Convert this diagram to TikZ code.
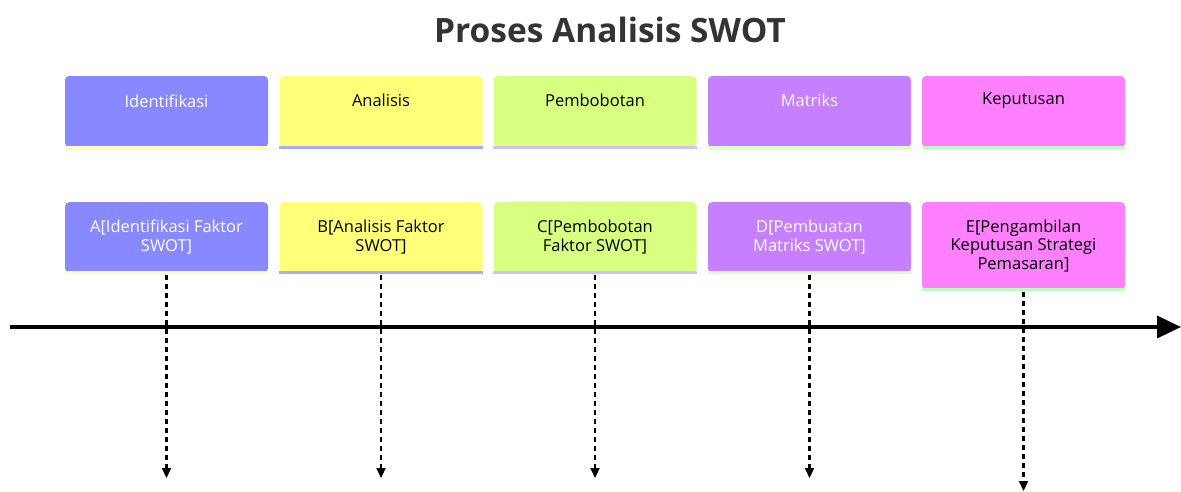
\documentclass[tikz,border=0pt]{standalone}
\usepackage{fontspec}
\setmainfont{Open Sans}
\usetikzlibrary{arrows.meta}
\definecolor{cA}{HTML}{8888FF}
\definecolor{cB}{HTML}{FFFF78}
\definecolor{cC}{HTML}{D9FF80}
\definecolor{cD}{HTML}{C680FF}
\definecolor{cE}{HTML}{FF80FF}
\definecolor{lA}{HTML}{FFFFB8}
\definecolor{lB}{HTML}{AAAAFF}
\definecolor{lC}{HTML}{D6BCFF}
\definecolor{lD}{HTML}{DAFFC4}
\definecolor{lE}{HTML}{BCFFBC}
\definecolor{titlec}{HTML}{333333}
\definecolor{lighttext}{HTML}{FFFFFF}
\tikzset{
  box/.style={rectangle, rounded corners=4pt, minimum width=203pt, inner sep=0pt, align=center, font=\fontsize{16.5}{18.5}\selectfont},
  topbox/.style={box, minimum height=71pt},
  evbox/.style={box, minimum height=70pt},
  lbl/.style={font=\fontsize{16.5}{18.5}\selectfont, inner sep=0pt},
  underline/.style={line width=3pt},
  drop/.style={dashed, dash pattern=on 5pt off 4pt, line width=2.2pt, -{Triangle[length=10pt,width=9pt]}},
  axis/.style={line width=3.5pt, -{Triangle[length=24pt,width=22pt]}}
}
\begin{document}
\begin{tikzpicture}[x=1pt,y=-1pt]
\useasboundingbox (0,0) rectangle (1181,491);
\node[font=\fontsize{33.5}{40}\selectfont\bfseries, text=titlec] (title) at (610,30) {Proses Analisis SWOT};
% top section boxes
\node[topbox, fill=cA] (sA) at (166.5,111.5) {};
\node[topbox, fill=cB] (sB) at (381,111.5) {};
\node[topbox, fill=cC] (sC) at (595,111.5) {};
\node[topbox, fill=cD] (sD) at (809.5,111.5) {};
\node[topbox, fill=cE] (sE) at (1023.5,111.5) {};
\draw[underline, lA] (sA.south west) -- (sA.south east);
\draw[underline, lB] (sB.south west) -- (sB.south east);
\draw[underline, lC] (sC.south west) -- (sC.south east);
\draw[underline, lD] (sD.south west) -- (sD.south east);
\draw[underline, lE] (sE.south west) -- (sE.south east);
\node[lbl, text=lighttext] (tA) at ([yshift=-25pt]sA.north) {Identifikasi};
\node[lbl] (tB) at ([yshift=-25pt]sB.north) {Analisis};
\node[lbl] (tC) at ([yshift=-25pt]sC.north) {Pembobotan};
\node[lbl, text=lighttext] (tD) at ([yshift=-25pt]sD.north) {Matriks};
\node[lbl] (tE) at ([yshift=-25pt]sE.north) {Keputusan};
% event boxes
\node[evbox, fill=cA, text=lighttext, anchor=north] (eA) at (166.5,202) {A[Identifikasi Faktor\\SWOT]};
\node[evbox, fill=cB, anchor=north] (eB) at (381,202) {B[Analisis Faktor\\SWOT]};
\node[evbox, fill=cC, anchor=north] (eC) at (595,202) {C[Pembobotan\\Faktor SWOT]};
\node[evbox, fill=cD, text=lighttext, anchor=north] (eD) at (809.5,202) {D[Pembuatan\\Matriks SWOT]};
\node[evbox, fill=cE, anchor=north, minimum height=87pt] (eE) at (1023.5,202) {E[Pengambilan\\Keputusan Strategi\\Pemasaran]};
\draw[underline, lA] (eA.south west) -- (eA.south east);
\draw[underline, lB] (eB.south west) -- (eB.south east);
\draw[underline, lC] (eC.south west) -- (eC.south east);
\draw[underline, lD] (eD.south west) -- (eD.south east);
\draw[underline, lE] (eE.south west) -- (eE.south east);
% axis
\coordinate (axL) at (10,327);
\coordinate (axR) at (1181,327);
\draw[axis] (axL) -- (axR);
% drop lines
\coordinate (dA) at (166.5,478);
\coordinate (dB) at (381,478);
\coordinate (dC) at (595,478);
\coordinate (dD) at (809.5,478);
\coordinate (dE) at (1023.5,491);
\draw[drop] ([yshift=-3pt]eA.south) -- (dA);
\draw[drop] ([yshift=-3pt]eB.south) -- (dB);
\draw[drop] ([yshift=-3pt]eC.south) -- (dC);
\draw[drop] ([yshift=-3pt]eD.south) -- (dD);
\draw[drop] ([yshift=-3pt]eE.south) -- (dE);
\end{tikzpicture}
\end{document}
